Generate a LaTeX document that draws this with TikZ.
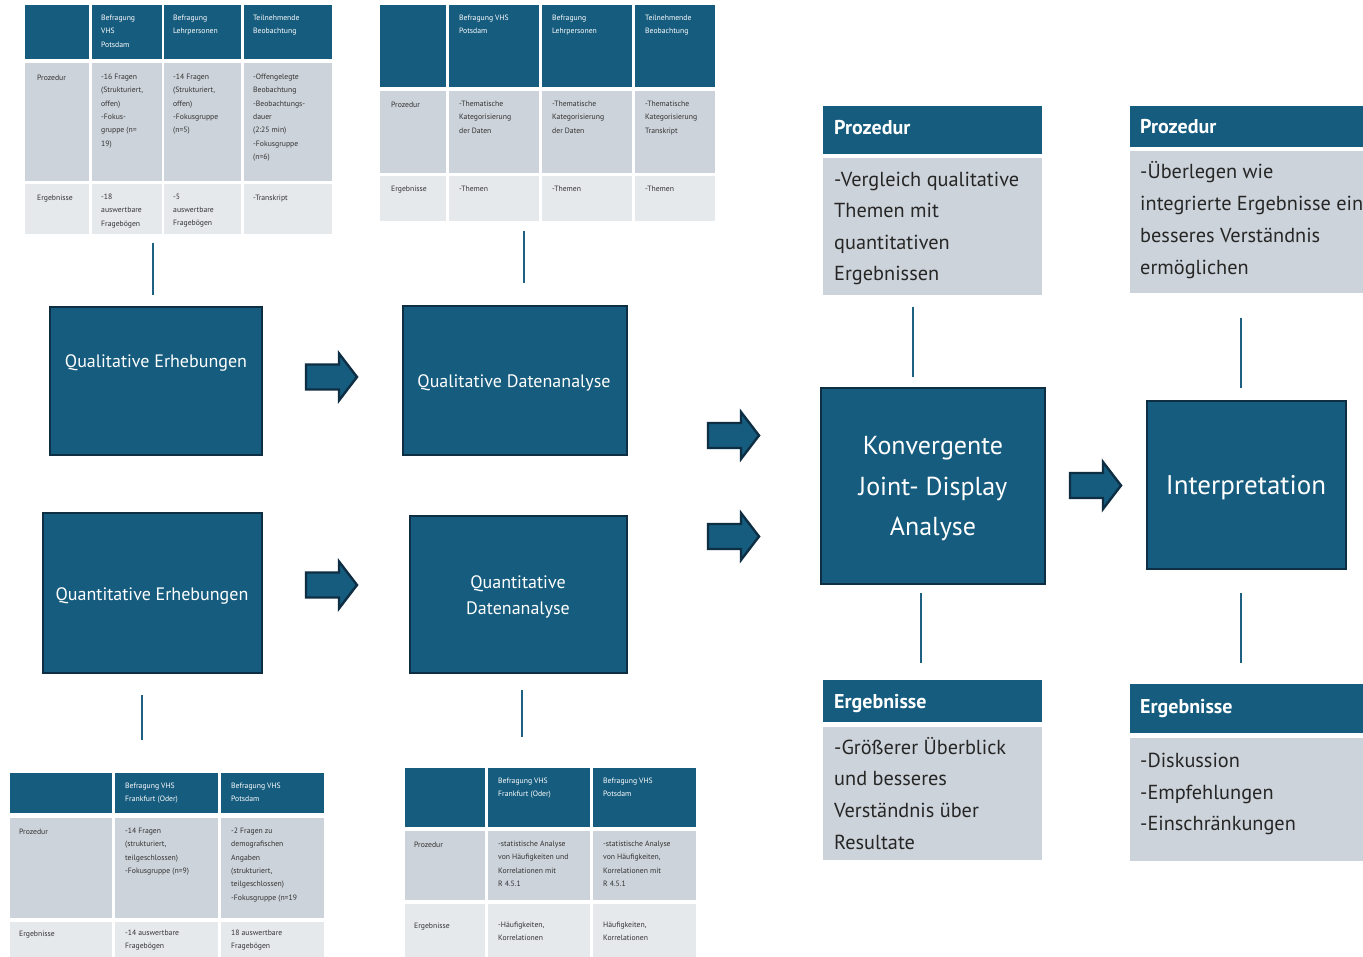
\documentclass[tikz,border=0pt]{standalone}
\usepackage{fontspec}
\setmainfont{PT Sans}
\definecolor{hblue}{RGB}{22,92,126}
\definecolor{bedge}{RGB}{14,46,68}
\definecolor{cblue}{RGB}{30,96,130}
\definecolor{tgray}{RGB}{205,211,218}
\definecolor{tlight}{RGB}{230,233,236}
\definecolor{tdark}{RGB}{50,50,50}
\definecolor{ptextc}{RGB}{38,38,38}
\newcommand{\cellbox}[5]{\fill[#5] (#1,#2) rectangle (#3,#4);}
\newcommand{\blockarr}[2]{\draw[arrowshape] (#1,#2-12.5) -- (#1+33,#2-12.5) -- (#1+33,#2-23.5) -- (#1+51,#2) -- (#1+33,#2+23.5) -- (#1+33,#2+12.5) -- (#1,#2+12.5) -- cycle;}
\begin{document}
\begin{tikzpicture}[x=1pt,y=-1pt,
 tt/.style={anchor=north west, yshift=5pt, inner sep=0pt, align=left, font=\fontsize{7.7}{13.4}\selectfont, text=tdark, execute at begin node={\rule{0pt}{7pt}}},
 th/.style={tt, text=white},
 bigbox/.style={draw=bedge, line width=2.5pt, fill=hblue, inner sep=0pt},
 bigtext/.style={text=white, align=center, inner sep=0pt},
 conn/.style={draw=cblue, line width=2.6pt},
 arrowshape/.style={fill=hblue, draw=bedge, line width=2.4pt, line join=miter},
 ptitle/.style={anchor=base west, text=white, font=\bfseries\fontsize{20}{24}\selectfont, inner sep=0pt},
 ptext/.style={anchor=north west, yshift=15pt, text=ptextc, align=left, inner sep=0pt, execute at begin node={\rule{0pt}{19pt}}},
]
\clip (0,0) rectangle (1363,957);
\fill[white] (0,0) rectangle (1363,957);

% ---------- top-left table ----------
\cellbox{25}{5}{89}{59}{hblue}
\cellbox{92}{5}{162}{59}{hblue}
\cellbox{164}{5}{241}{59}{hblue}
\cellbox{244}{5}{332}{59}{hblue}
\cellbox{25}{63}{89}{181}{tgray}
\cellbox{92}{63}{162}{181}{tgray}
\cellbox{164}{63}{241}{181}{tgray}
\cellbox{244}{63}{332}{181}{tgray}
\cellbox{25}{184}{89}{234}{tlight}
\cellbox{92}{184}{162}{234}{tlight}
\cellbox{164}{184}{241}{234}{tlight}
\cellbox{244}{184}{332}{234}{tlight}
\node[th] (tlh1) at (101,19.6) {Befragung\\VHS\\Potsdam};
\node[th] (tlh2) at (173,19.6) {Befragung\\Lehrpersonen};
\node[th] (tlh3) at (253,19.6) {Teilnehmende\\Beobachtung};
\node[tt] (tlp0) at (37,78.6) {Prozedur};
\node[tt] (tlp1) at (101,78.6) {-16 Fragen\\(Strukturiert,\\offen)\\-Fokus-\\gruppe (n=\\19)};
\node[tt] (tlp2) at (173,78.6) {-14 Fragen\\(Strukturiert,\\offen)\\-Fokusgruppe\\(n=5)};
\node[tt] (tlp3) at (253,78.6) {-Offengelegte\\Beobachtung\\-Beobachtungs-\\dauer\\(2:25 min)\\-Fokusgruppe\\(n=6)};
\node[tt] (tle0) at (37,198.6) {Ergebnisse};
\node[tt] (tle1) at (101,198.6) {-18\\auswertbare\\Fragebögen};
\node[tt] (tle2) at (173,198.6) {-5\\auswertbare\\Fragebögen};
\node[tt] (tle3) at (253,198.6) {-Transkript};

% ---------- top-middle table ----------
\cellbox{380}{5}{446}{87}{hblue}
\cellbox{449}{5}{539}{87}{hblue}
\cellbox{542}{5}{632}{87}{hblue}
\cellbox{635}{5}{715}{87}{hblue}
\cellbox{380}{91}{446}{173}{tgray}
\cellbox{449}{91}{539}{173}{tgray}
\cellbox{542}{91}{632}{173}{tgray}
\cellbox{635}{91}{715}{173}{tgray}
\cellbox{380}{176}{446}{221}{tlight}
\cellbox{449}{176}{539}{221}{tlight}
\cellbox{542}{176}{632}{221}{tlight}
\cellbox{635}{176}{715}{221}{tlight}
\node[th] (tmh1) at (459,19.6) {Befragung VHS\\Potsdam};
\node[th] (tmh2) at (552,19.6) {Befragung\\Lehrpersonen};
\node[th] (tmh3) at (645,19.6) {Teilnehmende\\Beobachtung};
\node[tt] (tmp0) at (391,105.6) {Prozedur};
\node[tt] (tmp1) at (459,105.6) {-Thematische\\Kategorisierung\\der Daten};
\node[tt] (tmp2) at (552,105.6) {-Thematische\\Kategorisierung\\der Daten};
\node[tt] (tmp3) at (645,105.6) {-Thematische\\Kategorisierung\\Transkript};
\node[tt] (tme0) at (391,189.6) {Ergebnisse};
\node[tt] (tme1) at (459,189.6) {-Themen};
\node[tt] (tme2) at (552,189.6) {-Themen};
\node[tt] (tme3) at (645,189.6) {-Themen};

% ---------- bottom-left table ----------
\cellbox{10}{773}{112}{813}{hblue}
\cellbox{115}{773}{218}{813}{hblue}
\cellbox{221}{773}{324}{813}{hblue}
\cellbox{10}{818}{112}{918}{tgray}
\cellbox{115}{818}{218}{918}{tgray}
\cellbox{221}{818}{324}{918}{tgray}
\cellbox{10}{922}{112}{960}{tlight}
\cellbox{115}{922}{218}{960}{tlight}
\cellbox{221}{922}{324}{960}{tlight}
\node[th] (blh1) at (125,787.6) {Befragung VHS\\Frankfurt (Oder)};
\node[th] (blh2) at (231,787.6) {Befragung VHS\\Potsdam};
\node[tt] (blp0) at (19,832.6) {Prozedur};
\node[tt] (blp1) at (125,832.6) {-14 Fragen\\(strukturiert,\\teilgeschlossen)\\-Fokusgruppe (n=9)};
\node[tt] (blp2) at (231,832.6) {-2 Fragen zu\\demografischen\\Angaben\\(strukturiert,\\teilgeschlossen)\\-Fokusgruppe (n=19};
\node[tt] (ble0) at (19,934.6) {Ergebnisse};
\node[tt] (ble1) at (125,934.6) {-14 auswertbare\\Fragebögen};
\node[tt] (ble2) at (231,934.6) {18 auswertbare\\Fragebögen};

% ---------- bottom-middle table ----------
\cellbox{405}{768}{485}{827}{hblue}
\cellbox{488}{768}{590}{827}{hblue}
\cellbox{593}{768}{696}{827}{hblue}
\cellbox{405}{831}{485}{900}{tgray}
\cellbox{488}{831}{590}{900}{tgray}
\cellbox{593}{831}{696}{900}{tgray}
\cellbox{405}{904}{485}{960}{tlight}
\cellbox{488}{904}{590}{960}{tlight}
\cellbox{593}{904}{696}{960}{tlight}
\node[th] (bmh1) at (498,782.6) {Befragung VHS\\Frankfurt (Oder)};
\node[th] (bmh2) at (603,782.6) {Befragung VHS\\Potsdam};
\node[tt] (bmp0) at (414,845.6) {Prozedur};
\node[tt] (bmp1) at (498,845.6) {-statistische Analyse\\von Häufigkeiten und\\Korrelationen mit\\R 4.5.1};
\node[tt] (bmp2) at (603,845.6) {-statistische Analyse\\von Häufigkeiten,\\Korrelationen mit\\R 4.5.1};
\node[tt] (bme0) at (414,926.6) {Ergebnisse};
\node[tt] (bme1) at (498,926.6) {-Häufigkeiten,\\Korrelationen};
\node[tt] (bme2) at (603,926.6) {Häufigkeiten,\\Korrelationen};

% ---------- big boxes ----------
\node[bigbox, minimum width=212pt, minimum height=148pt] (qe) at (156,381) {};
\node[bigtext, font=\fontsize{18}{26}\selectfont] (qeT) at (156,363) {Qualitative Erhebungen};
\node[bigbox, minimum width=224pt, minimum height=149pt] (qd) at (515,380.5) {};
\node[bigtext, font=\fontsize{18}{26}\selectfont] (qdT) at (514,383) {Qualitative Datenanalyse};
\node[bigbox, minimum width=219pt, minimum height=160pt] (ne) at (152.5,593) {};
\node[bigtext, font=\fontsize{18}{26}\selectfont] (neT) at (152,596) {Quantitative Erhebungen};
\node[bigbox, minimum width=217pt, minimum height=157pt] (nd) at (518.5,594.5) {};
\node[bigtext, font=\fontsize{18}{26}\selectfont] (ndT) at (518,597) {Quantitative\\Datenanalyse};
\node[bigbox, minimum width=224pt, minimum height=196pt] (kj) at (933,486) {};
\node[bigtext, font=\fontsize{26}{40.5}\selectfont] (kjT) at (933,489) {Konvergente\\Joint- Display\\Analyse};
\node[bigbox, minimum width=199pt, minimum height=168pt] (ip) at (1246.5,485) {};
\node[bigtext, font=\fontsize{27}{32}\selectfont] (ipT) at (1246,488) {Interpretation};

% ---------- block arrows ----------
\blockarr{306}{377}
\blockarr{306}{585}
\blockarr{708}{435.5}
\blockarr{708}{536.5}
\blockarr{1070}{485.5}

% ---------- side panels ----------
\cellbox{823}{106}{1042}{154}{hblue}
\cellbox{823}{158}{1042}{295}{tgray}
\node[ptitle] (mpT) at (834,135) {Prozedur};
\node[ptext, font=\fontsize{20.3}{31.3}\selectfont] (mpB) at (834,187) {-Vergleich qualitative\\Themen mit\\quantitativen\\Ergebnissen};
\cellbox{823}{680}{1042}{722}{hblue}
\cellbox{823}{727}{1042}{860}{tgray}
\node[ptitle] (meT) at (834,708) {Ergebnisse};
\node[ptext, font=\fontsize{20.3}{31.6}\selectfont] (meB) at (834,752) {-Größerer Überblick\\und besseres\\Verständnis über\\Resultate};
\cellbox{1130}{106}{1370}{147}{hblue}
\cellbox{1130}{151}{1370}{293}{tgray}
\node[ptitle] (rpT) at (1140,134) {Prozedur};
\node[ptext, font=\fontsize{20.3}{32}\selectfont] (rpB) at (1140,176) {-Überlegen wie\\integrierte Ergebnisse ein\\besseres Verständnis\\ermöglichen};
\cellbox{1130}{684}{1370}{733}{hblue}
\cellbox{1130}{738}{1370}{861}{tgray}
\node[ptitle] (reT) at (1140,713) {Ergebnisse};
\node[ptext, font=\fontsize{20.3}{31.5}\selectfont] (reB) at (1140,768) {-Diskussion\\-Empfehlungen\\-Einschränkungen};

% ---------- connectors ----------
\coordinate (c1a) at (153,243); \coordinate (c1b) at (153,295);
\coordinate (c2a) at (524,231); \coordinate (c2b) at (524,283);
\coordinate (c3a) at (142,695); \coordinate (c3b) at (142,740);
\coordinate (c4a) at (522,690); \coordinate (c4b) at (522,737);
\coordinate (c5a) at (913,307); \coordinate (c5b) at (913,377);
\coordinate (c6a) at (921,593); \coordinate (c6b) at (921,663);
\coordinate (c7a) at (1241,318); \coordinate (c7b) at (1241,388);
\coordinate (c8a) at (1241,593); \coordinate (c8b) at (1241,663);
\draw[conn] (c1a) -- (c1b);
\draw[conn] (c2a) -- (c2b);
\draw[conn] (c3a) -- (c3b);
\draw[conn] (c4a) -- (c4b);
\draw[conn] (c5a) -- (c5b);
\draw[conn] (c6a) -- (c6b);
\draw[conn] (c7a) -- (c7b);
\draw[conn] (c8a) -- (c8b);
\end{tikzpicture}
\end{document}
